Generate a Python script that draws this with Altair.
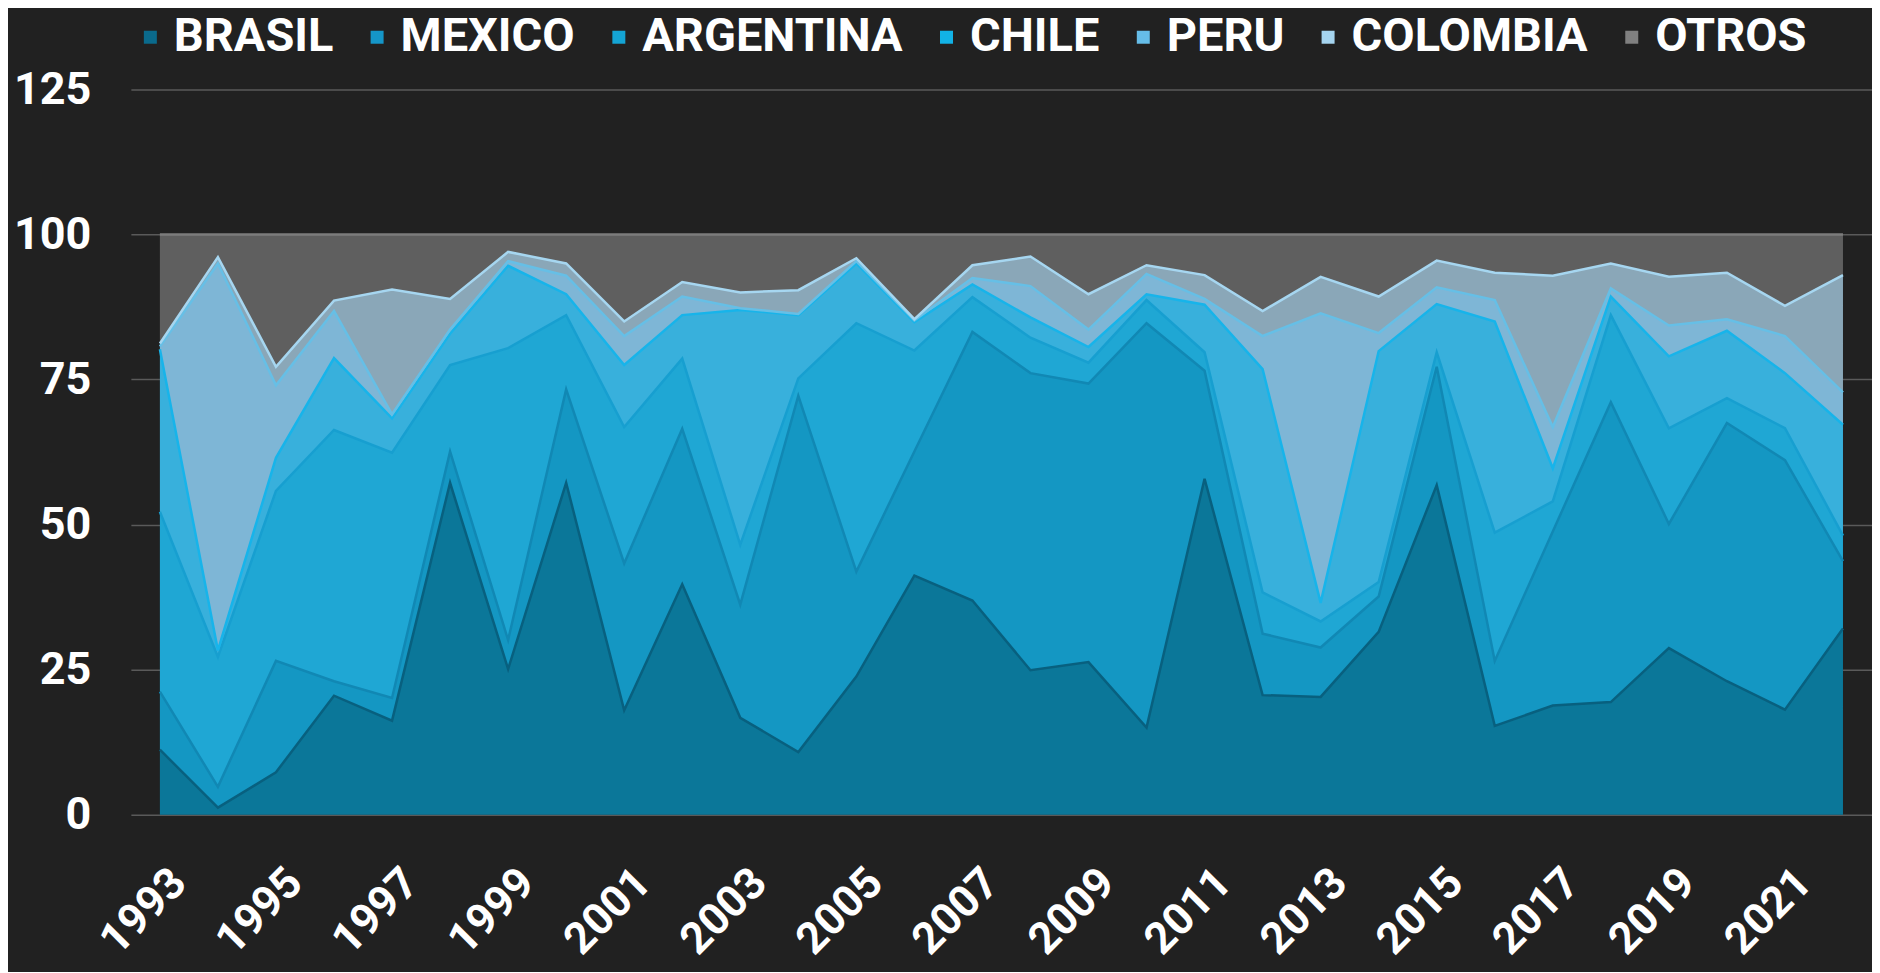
import altair as alt
import pandas as pd

years = list(range(1993, 2023))
series = ["BRASIL", "MEXICO", "ARGENTINA", "CHILE", "PERU", "COLOMBIA", "OTROS"]

brasil = [11.2, 1.2, 7.3, 20.5, 16.2, 57.2, 25.1, 57.2, 18.0, 39.7, 16.7, 10.8, 23.8, 41.2, 36.9,
          24.9, 26.3, 15.0, 57.9, 20.6, 20.3, 31.5, 56.8, 15.3, 18.8, 19.4, 28.7, 23.0, 18.1, 32.1]
mexico = [10.0, 3.6, 19.2, 2.5, 3.9, 5.4, 5.0, 16.1, 25.3, 26.8, 19.5, 61.4, 18.1, 21.4, 46.3,
          51.2, 48.0, 69.7, 18.6, 10.6, 8.5, 6.1, 20.4, 11.2, 30.0, 51.7, 21.4, 44.5, 43.0, 11.6]
argentina = [31.0, 22.4, 29.3, 43.3, 42.3, 14.9, 50.3, 12.8, 23.5, 12.1, 10.3, 3.0, 42.8, 17.4, 6.0,
             6.1, 3.6, 4.0, 3.2, 7.1, 4.5, 2.5, 2.5, 22.1, 5.2, 15.0, 16.5, 4.3, 5.5, 4.4]
chile = [28.0, 1.1, 5.7, 12.4, 5.9, 5.4, 14.2, 3.6, 10.7, 7.5, 40.5, 10.9, 10.3, 4.9, 2.2,
         3.5, 2.7, 1.0, 8.2, 38.5, 3.2, 39.8, 8.3, 36.4, 5.7, 3.2, 12.4, 11.6, 9.5, 19.1]
peru = [0.5, 66.7, 12.5, 8.1, 0.7, 0.7, 0.8, 3.2, 5.0, 3.2, 0.3, 0.2, 0.4, 0.3, 1.1,
        5.4, 3.0, 3.5, 1.0, 5.7, 49.9, 3.1, 2.9, 3.7, 7.1, 1.4, 5.3, 2.0, 6.4, 5.6]
colombia = [0.5, 1.1, 3.2, 1.8, 21.5, 5.3, 1.6, 2.1, 2.5, 2.5, 2.7, 4.1, 0.5, 0.2, 2.2,
            5.1, 6.1, 1.5, 4.1, 4.3, 6.3, 6.3, 4.6, 4.7, 26.1, 4.3, 8.4, 8.0, 5.2, 20.2]
otros = [18.8, 3.9, 22.8, 11.4, 9.5, 11.1, 3.0, 5.0, 15.0, 8.2, 10.0, 9.6, 4.1, 14.6, 5.3,
         3.8, 10.3, 5.3, 7.0, 13.2, 7.3, 10.7, 4.5, 6.6, 7.1, 5.0, 7.3, 6.6, 12.3, 7.0]

y_ticks = [0, 25, 50, 75, 100, 125]
x_ticks = list(range(1993, 2022, 2))

fill_colors = ["#0b7799", "#1497c3", "#1fa7d4", "#38b0dc", "#7eb6d6", "#8aa7b8", "#5f5f5f"]
line_colors = ["#08607f", "#1188b4", "#179fd0", "#17b4ea", "#66bfe6", "#a6d6f0", "#7c7c7c"]
legend_colors = ["#0a6a8c", "#1596c8", "#14a4d4", "#12b2e6", "#66bde8", "#a5d4ef", "#808080"]

values = [brasil, mexico, argentina, chile, peru, colombia, otros]
rows = []
for idx, (name, vals) in enumerate(zip(series, values)):
    for yr, v in zip(years, vals):
        rows.append({"year": yr, "series": name, "idx": idx, "value": v})
df = pd.DataFrame(rows)
ticks_df = pd.DataFrame({"year": x_ticks})

FONT = "Roboto"

base = alt.Chart(df).transform_stack(
    stack="value", groupby=["year"], as_=["y0", "y1"],
    sort=[alt.SortField("idx", order="ascending")]
)

x_scale = alt.Scale(domain=[1992.5, 2022.5], nice=False, zero=False)
x_enc = alt.X("year:Q", scale=x_scale,
              axis=alt.Axis(values=x_ticks, labels=False, grid=False, domain=False,
                            ticks=False, title=None))
y_enc = alt.Y("y1:Q",
              scale=alt.Scale(domain=[0, 125], nice=False),
              axis=alt.Axis(values=y_ticks, labelFont=FONT, labelFontSize=45,
                            labelFontWeight="bold", labelColor="#ffffff", grid=True,
                            gridColor="#5a5a5a", gridWidth=1.5, domain=False, ticks=False,
                            labelPadding=40, title=None))

areas = base.mark_area(interpolate="linear", opacity=1).encode(
    x=x_enc,
    y=y_enc,
    y2="y0:Q",
    color=alt.Color("series:N", scale=alt.Scale(domain=series, range=fill_colors), legend=None),
    order=alt.Order("idx:Q"),
)

lines = base.mark_line(interpolate="linear", strokeWidth=2.5).encode(
    x=x_enc,
    y=y_enc,
    color=alt.Color("series:N", scale=alt.Scale(domain=series, range=line_colors), legend=None),
    order=alt.Order("year:Q"),
)

year_labels = alt.Chart(ticks_df).mark_text(
    angle=315, align="right", baseline="top", font=FONT, fontSize=44,
    fontWeight="bold", color="#ffffff", dx=3, dy=3
).encode(
    x=alt.X("year:Q", scale=x_scale, axis=None),
    y=alt.value(772),
    text=alt.Text("year:Q", format="d"),
)

legend_layer = alt.Chart(df).transform_filter("datum.year < 0").mark_square(opacity=1).encode(
    color=alt.Color("series:N", scale=alt.Scale(domain=series, range=legend_colors),
                    legend=alt.Legend(orient="none", direction="horizontal", legendX=-4, legendY=-76,
                                      title=None, symbolType="square", symbolSize=169,
                                      symbolStrokeWidth=0, labelFont=FONT, labelFontSize=47,
                                      labelFontWeight="bold", labelColor="#ffffff",
                                      labelOffset=0, columnPadding=20, padding=0,
                                      labelLimit=0))
)

chart = alt.layer(areas, lines, year_labels, legend_layer).resolve_scale(color="independent").properties(
    width=1743, height=726,
    autosize=alt.AutoSizeParams(type="none"),
    padding={"left": 123, "top": 81, "right": 0, "bottom": 157},
    background="#212121",
).configure_view(stroke=None)

chart.save("out.html", embed_options={"renderer": "svg", "actions": False})
